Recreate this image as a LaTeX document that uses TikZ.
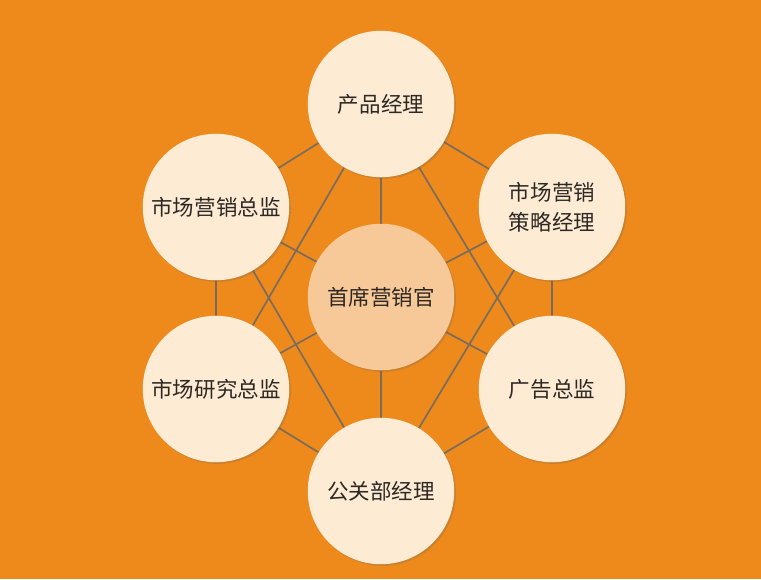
\documentclass[tikz,border=0pt]{standalone}
\usepackage{xcolor}
\usepackage{fontspec}
\usepackage{tikz}
\usetikzlibrary{shadows}
\setmainfont{Noto Sans CJK SC}
\definecolor{bgorange}{RGB}{238,138,27}
\definecolor{roundcream}{RGB}{253,235,212}
\definecolor{corepeach}{RGB}{247,201,152}
\definecolor{linkgray}{RGB}{122,108,92}
\definecolor{inkgray}{RGB}{45,40,36}
\pgfdeclarelayer{paper}
\pgfdeclarelayer{links}
\pgfsetlayers{paper,links,main}

\tikzset{
  role/.style={circle, fill=roundcream, minimum size=3.66cm, inner sep=0pt, text=inkgray,
    font=\fontsize{15.3}{21}\selectfont, align=center,
    drop shadow={shadow xshift=1.2pt, shadow yshift=-1.2pt, opacity=0.25, fill=black!60}},
  link/.style={draw=linkgray, line width=1.2pt}
}

\begin{document}
\begin{tikzpicture}[x=0.025cm, y=-0.025cm]
  \begin{pgfonlayer}{paper}
    \fill[bgorange] (0,0) rectangle (761,579);
  \end{pgfonlayer}
  \useasboundingbox (0,0) rectangle (761,579);

  \node[role] (product) at (381,104) {产品经理};
  \node[role] (mktdir) at (216,207) {市场营销总监};
  \node[role] (strategy) at (552,207) {市场营销\\策略经理};
  \node[role, fill=corepeach] (cmo) at (381,297) {首席营销官};
  \node[role] (research) at (216,389) {市场研究总监};
  \node[role] (ads) at (552,389) {广告总监};
  \node[role] (pr) at (381,491) {公关部经理};

  \begin{pgfonlayer}{links}
    % outer ring
    \draw[link] (product) -- (mktdir) -- (research) -- (pr) -- (ads) -- (strategy) -- (product);
    % spokes
    \foreach \n in {product, mktdir, strategy, research, ads, pr}
      \draw[link] (cmo) -- (\n);
    % long diagonals
    \draw[link] (product) -- (research);
    \draw[link] (product) -- (ads);
    \draw[link] (mktdir) -- (pr);
    \draw[link] (strategy) -- (pr);
  \end{pgfonlayer}
\end{tikzpicture}
\end{document}
